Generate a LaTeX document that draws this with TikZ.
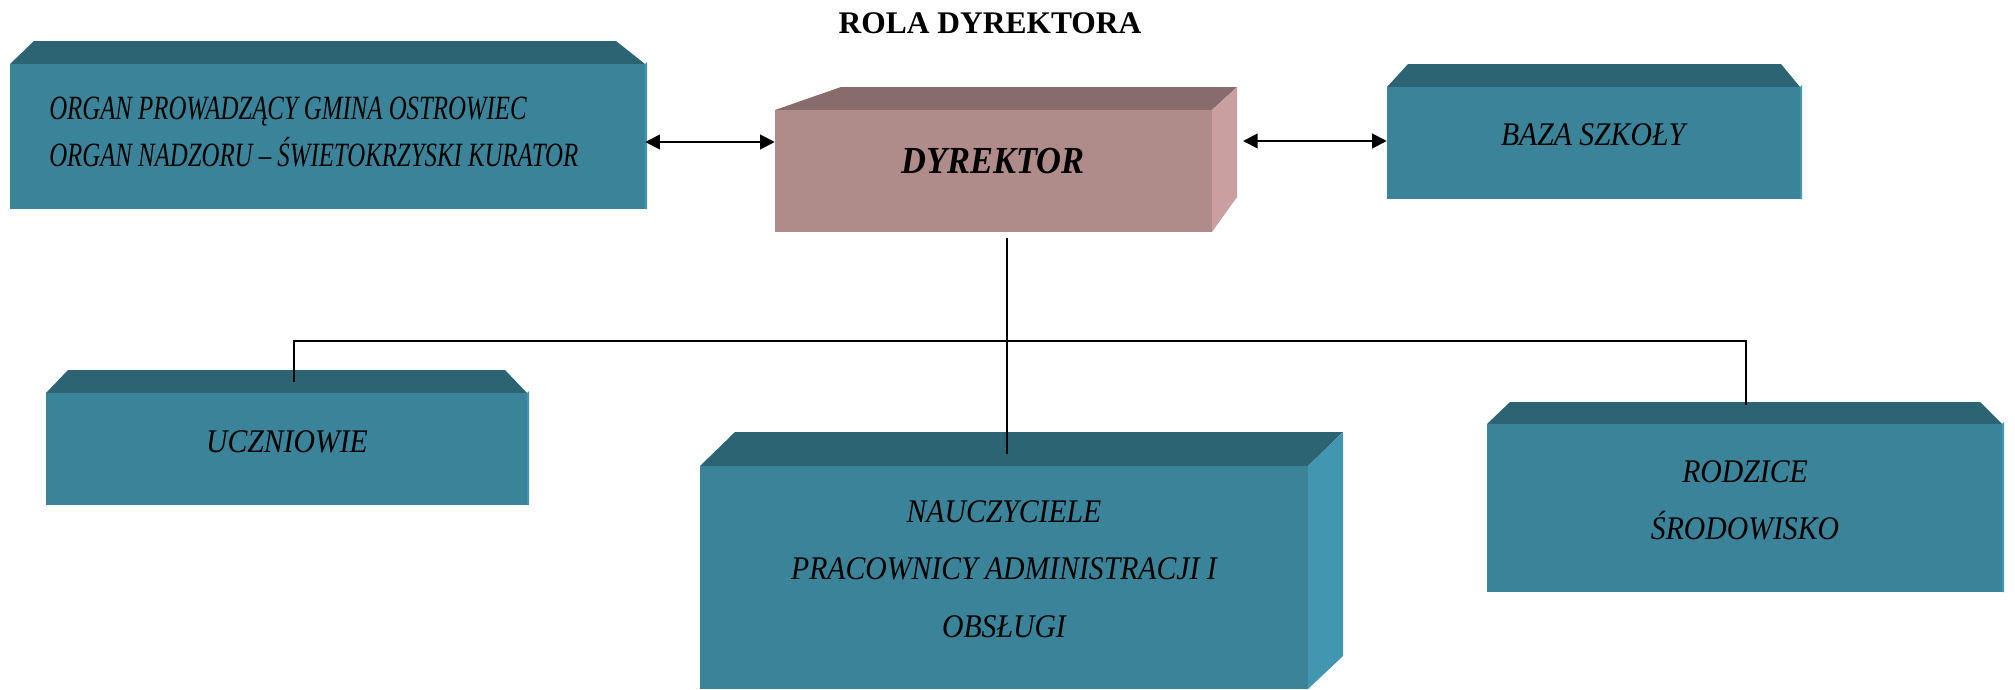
\documentclass[tikz,border=0pt]{standalone}
\usepackage{fontspec}
\usepackage{xcolor}
\usepackage{tikz}
\usetikzlibrary{arrows.meta}

\setmainfont{Liberation Serif}
\newfontfamily\boxfont[FakeStretch=0.9]{Liberation Serif}
\newfontfamily\orgfont[FakeStretch=0.73]{Liberation Serif}

\definecolor{frontc}{RGB}{58,131,152}
\definecolor{topc}{RGB}{45,100,116}
\definecolor{sidec}{RGB}{66,150,176}
\definecolor{dyrfront}{RGB}{175,139,138}
\definecolor{dyrtop}{RGB}{135,108,107}
\definecolor{dyrsidec}{RGB}{201,160,159}

\tikzset{
  frontface/.style={rectangle, inner sep=0pt, fill=frontc},
  boxtext/.style={inner sep=0pt, align=center, font=\boxfont\itshape\fontsize{24.75}{43}\selectfont},
  biarrow/.style={line width=1.5pt, {Triangle[length=11pt,width=11pt]}-{Triangle[length=11pt,width=11pt]}},
  treeline/.style={line width=1.3pt}
}

\begin{document}
\begin{tikzpicture}[x=0.75pt,y=0.75pt,yscale=-1,xscale=1]
\useasboundingbox (0,0) rectangle (2015,689);

%Shape: top and side faces
\fill[topc] (10,64) -- (34,41) -- (616,41) -- (645,64) -- cycle ;
\fill[sidec] (645,64) -- (647,62) -- (647,209) -- (645,209) -- cycle ;
\fill[topc] (1387,87) -- (1408,64) -- (1781,64) -- (1800,87) -- cycle ;
\fill[sidec] (1800,87) -- (1802,85) -- (1802,199) -- (1800,199) -- cycle ;
\fill[dyrtop] (775,110) -- (841,87) -- (1237,87) -- (1212,110) -- cycle ;
\fill[dyrsidec] (1212,110) -- (1237,87) -- (1237,197) -- (1212,232) -- cycle ;
\fill[topc] (46,393) -- (68,370) -- (505,370) -- (527,393) -- cycle ;
\fill[sidec] (527,393) -- (529,391) -- (529,505) -- (527,505) -- cycle ;
\fill[topc] (700,466) -- (735,432) -- (1343,432) -- (1308,466) -- cycle ;
\fill[sidec] (1308,466) -- (1343,432) -- (1343,656) -- (1308,689) -- cycle ;
\fill[topc] (1487,424) -- (1510,402) -- (1980,402) -- (2002,424) -- cycle ;
\fill[sidec] (2002,424) -- (2004,422) -- (2004,592) -- (2002,592) -- cycle ;

%Shape: front faces
\node[frontface, minimum width=476.25pt, minimum height=108.75pt] (org) at (327.5,136.5) {};
\node[frontface, fill=dyrfront, minimum width=327.75pt, minimum height=91.5pt] (dyr) at (993.5,171) {};
\node[frontface, minimum width=309.75pt, minimum height=84pt] (baza) at (1593.5,143) {};
\node[frontface, minimum width=360.75pt, minimum height=84pt] (ucz) at (286.5,449) {};
\node[frontface, minimum width=456pt, minimum height=167.25pt] (nau) at (1004,577.5) {};
\node[frontface, minimum width=386.25pt, minimum height=126pt] (rod) at (1744.5,508) {};

% Text Node
\node[font=\bfseries\fontsize{23.6}{28}\selectfont, inner sep=0pt] (title) at (990,23) {ROLA DYREKTORA};
\node[boxtext, anchor=west, align=left, font=\orgfont\itshape\fontsize{25.5}{35}\selectfont] (orgtxt) at (49,132) {ORGAN PROWADZĄCY GMINA OSTROWIEC\\ORGAN NADZORU – ŚWIETOKRZYSKI KURATOR};
\node[boxtext, font=\boxfont\bfseries\itshape\fontsize{28.7}{34}\selectfont] (dyrtxt) at (993,161) {DYREKTOR};
\node[boxtext] (bazatxt) at (1593,135) {BAZA SZKOŁY};
\node[boxtext] (ucztxt) at (287,442) {UCZNIOWIE};
\node[boxtext] (nautxt) at (1004,569) {NAUCZYCIELE\\PRACOWNICY ADMINISTRACJI I\\OBSŁUGI};
\node[boxtext] (rodtxt) at (1745,500) {RODZICE\\ŚRODOWISKO};

%Arrows
\coordinate (dyrright) at (1243,141);
\draw[biarrow] (org.east |- 0,142) -- (dyr.west |- 0,142);
\draw[biarrow] (dyrright) -- (baza.west |- dyrright);

%Tree lines
\coordinate (dyrfoot) at (1007,238);
\coordinate (hub) at (1007,341);
\coordinate (nautop) at (1007,454);
\coordinate (ucztop) at (294,382);
\coordinate (rodtop) at (1746,405);
\draw[treeline] (dyrfoot) -- (nautop);
\draw[treeline] (ucztop) |- (hub) -| (rodtop);

\end{tikzpicture}
\end{document}
